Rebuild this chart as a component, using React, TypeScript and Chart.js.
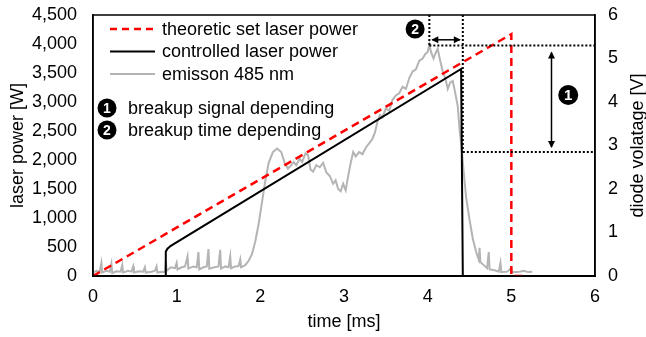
import { useEffect, useRef } from "react";
import { Chart, registerables } from "chart.js";

Chart.register(...registerables);

// ---------- data ----------
const xTicks = [0, 1, 2, 3, 4, 5, 6];
const powerTicksMax = 4500;
const voltTicksMax = 6;

const theoreticTime = [0, 5, 5, 5.15];
const theoreticPower = [0, 4170, 0, 0];

const controlTime = [0, 0.87, 0.87, 0.89, 0.93, 4.4, 4.42];
const controlPower = [0, 0, 420, 470, 520, 3570, 0];

const emissionTime = [
  0, 0.04, 0.08, 0.1, 0.11, 0.16, 0.2, 0.22, 0.23, 0.28, 0.33, 0.35, 0.36, 0.42, 0.46, 0.48, 0.49,
  0.55, 0.6, 0.62, 0.63, 0.7, 0.74, 0.76, 0.77, 0.82, 0.86, 0.87, 0.88,
  0.93, 0.98, 1.0, 1.01, 1.06, 1.1, 1.13, 1.14, 1.2, 1.24, 1.26, 1.27, 1.32, 1.36, 1.38, 1.39,
  1.45, 1.5, 1.52, 1.53, 1.58, 1.62, 1.64, 1.65, 1.7, 1.74, 1.76, 1.77, 1.82, 1.86, 1.9, 1.94,
  1.98, 2.02, 2.06, 2.1, 2.15, 2.2, 2.25, 2.29, 2.33, 2.37, 2.4, 2.43, 2.47, 2.5, 2.54, 2.57,
  2.6, 2.63, 2.67, 2.71, 2.75, 2.79, 2.83, 2.87, 2.9, 2.93, 2.96, 2.99, 3.02, 3.05, 3.08, 3.11,
  3.14, 3.18, 3.22, 3.26, 3.3, 3.34, 3.37, 3.4, 3.43, 3.46, 3.5, 3.54, 3.58, 3.62, 3.66, 3.7,
  3.74, 3.78, 3.82, 3.86, 3.9, 3.94, 3.97, 4.0, 4.02, 4.04, 4.07, 4.1, 4.12, 4.15, 4.18, 4.21,
  4.24, 4.27, 4.3, 4.33, 4.36, 4.38, 4.41, 4.43, 4.46, 4.5, 4.54, 4.58, 4.61, 4.62, 4.63, 4.67,
  4.71, 4.73, 4.74, 4.8, 4.85, 4.87, 4.88, 4.95, 5.0, 5.01, 5.1, 5.15, 5.2, 5.25,
];
const emissionVolt = [
  0.08, 0.12, 0.1, 0.3, 0.08, 0.12, 0.1, 0.28, 0.07, 0.11, 0.1, 0.25, 0.08, 0.12, 0.1, 0.22, 0.08,
  0.11, 0.1, 0.2, 0.08, 0.1, 0.12, 0.22, 0.08, 0.1, 0.09, 0.35, 0.12,
  0.2, 0.18, 0.3, 0.15, 0.2, 0.22, 0.45, 0.17, 0.22, 0.2, 0.55, 0.15, 0.2, 0.22, 0.62, 0.17,
  0.2, 0.22, 0.6, 0.17, 0.22, 0.2, 0.45, 0.18, 0.22, 0.23, 0.38, 0.2, 0.25, 0.35, 0.5, 0.8,
  1.2, 1.7, 2.2, 2.6, 2.85, 2.93, 2.85, 2.6, 2.47, 2.55, 2.62, 2.55, 2.7, 2.62, 2.82, 2.78,
  2.45, 2.4, 2.55, 2.5, 2.6, 2.38, 2.3, 2.12, 2.2, 2.0, 1.95, 2.12, 1.97, 2.3, 2.6, 2.85,
  2.75, 2.85, 2.8, 2.95, 3.05, 3.15, 3.3, 3.55, 3.7, 3.65, 3.85, 3.8, 4.05, 4.15, 4.2, 4.35,
  4.3, 4.55, 4.7, 4.75, 4.95, 5.0, 5.1, 5.15, 5.32, 5.15, 5.0, 5.15, 5.22, 4.95, 4.7, 4.55,
  4.3, 4.45, 4.48, 4.2, 3.9, 3.4, 2.85, 2.4, 1.8, 1.3, 0.85, 0.55, 0.38, 0.65, 0.32, 0.25,
  0.18, 0.55, 0.15, 0.13, 0.1, 0.3, 0.09, 0.1, 0.18, 0.09, 0.1, 0.12, 0.09, 0.1,
];

const legendLabels = ["theoretic set laser power", "controlled laser power", "emisson 485 nm"];
const noteLabels = ["breakup signal depending", "breakup time depending"];
const rightTitle = "diode volatage [V]";

// annotation values (data units: ms / V)
const peakTime = 4.02;
const breakTime = 4.42;
const peakVolt = 5.3;
const dropVolt = 2.85;
const timeArrowVolt = 5.43;
const signalArrowTime = 5.48;
const badge1 = { t: 5.68, v: 4.16 };
const badge2 = { t: 3.85, v: 5.68 };

// ---------- styles ----------
const FAMILY = "'Liberation Sans', Arial, sans-serif";
const RED = "#ff0000";
const BLACK = "#000000";
const GRAY = "#b4b4b4";

const zip = (xs: number[], ys: number[]) => xs.map((x, i) => ({ x, y: ys[i] }));

function badge(ctx: CanvasRenderingContext2D, x: number, y: number, r: number, label: string) {
  ctx.save();
  ctx.beginPath();
  ctx.arc(x, y, r, 0, Math.PI * 2);
  ctx.fillStyle = BLACK;
  ctx.fill();
  ctx.fillStyle = "#fff";
  ctx.font = `bold ${Math.round(r * 1.5)}px ${FAMILY}`;
  ctx.textAlign = "center";
  ctx.textBaseline = "middle";
  ctx.fillText(label, x, y + 1);
  ctx.restore();
}

function arrowHead(ctx: CanvasRenderingContext2D, x: number, y: number, dx: number, dy: number) {
  const len = 7, half = 3.5;
  const px = -dy, py = dx;
  ctx.beginPath();
  ctx.moveTo(x, y);
  ctx.lineTo(x - dx * len + px * half, y - dy * len + py * half);
  ctx.lineTo(x - dx * len - px * half, y - dy * len - py * half);
  ctx.closePath();
  ctx.fill();
}

const overlay = {
  id: "overlay",
  afterDatasetsDraw(chart: any) {
    const ctx: CanvasRenderingContext2D = chart.ctx;
    const xs = chart.scales.x;
    const yv = chart.scales.y2;
    const area = chart.chartArea;
    ctx.save();
    // frame
    ctx.strokeStyle = BLACK;
    ctx.lineWidth = 1.5;
    ctx.strokeRect(area.left, area.top, area.right - area.left, area.bottom - area.top);

    // right axis title (reads bottom-to-top)
    ctx.save();
    ctx.translate(638, (area.top + area.bottom) / 2);
    ctx.rotate(-Math.PI / 2);
    ctx.font = `18px ${FAMILY}`;
    ctx.fillStyle = BLACK;
    ctx.textAlign = "center";
    ctx.textBaseline = "middle";
    ctx.fillText(rightTitle, 0, 0);
    ctx.restore();

    // dotted guide lines
    ctx.setLineDash([2, 2]);
    ctx.lineWidth = 2;
    const xPeak = xs.getPixelForValue(peakTime);
    const xBreak = xs.getPixelForValue(breakTime);
    const yPeak = yv.getPixelForValue(peakVolt);
    const yDrop = yv.getPixelForValue(dropVolt);
    ctx.beginPath();
    ctx.moveTo(xPeak, area.top);
    ctx.lineTo(xPeak, yPeak);
    ctx.moveTo(xPeak, yPeak);
    ctx.lineTo(area.right, yPeak);
    ctx.moveTo(xBreak, area.top);
    ctx.lineTo(xBreak, yDrop);
    ctx.moveTo(xBreak, yDrop);
    ctx.lineTo(area.right, yDrop);
    ctx.stroke();
    ctx.setLineDash([]);

    // horizontal double arrow
    ctx.fillStyle = BLACK;
    ctx.lineWidth = 1.5;
    const yA = yv.getPixelForValue(timeArrowVolt);
    ctx.beginPath();
    ctx.moveTo(xPeak + 3, yA);
    ctx.lineTo(xBreak - 3, yA);
    ctx.stroke();
    arrowHead(ctx, xPeak + 2, yA, -1, 0);
    arrowHead(ctx, xBreak - 2, yA, 1, 0);

    // vertical double arrow
    const xA = xs.getPixelForValue(signalArrowTime);
    ctx.beginPath();
    ctx.moveTo(xA, yPeak + 7);
    ctx.lineTo(xA, yDrop - 5);
    ctx.stroke();
    arrowHead(ctx, xA, yPeak + 6, 0, -1);
    arrowHead(ctx, xA, yDrop - 4, 0, 1);

    badge(ctx, xs.getPixelForValue(badge1.t), yv.getPixelForValue(badge1.v), 10, "1");
    badge(ctx, xs.getPixelForValue(badge2.t), yv.getPixelForValue(badge2.v), 9.5, "2");

    // legend
    const lx = area.left + 17;
    const ly = area.top + 14;
    const gap = 22.5;
    const styles = [
      { c: RED, w: 2.5, d: [7, 5] },
      { c: BLACK, w: 2, d: [] },
      { c: GRAY, w: 2, d: [] },
    ];
    ctx.font = `18px ${FAMILY}`;
    ctx.textBaseline = "middle";
    ctx.textAlign = "left";
    legendLabels.forEach((t, i) => {
      const y = ly + i * gap;
      ctx.strokeStyle = styles[i].c;
      ctx.lineWidth = styles[i].w;
      ctx.setLineDash(styles[i].d);
      ctx.beginPath();
      ctx.moveTo(lx, y);
      ctx.lineTo(lx + 45, y);
      ctx.stroke();
      ctx.setLineDash([]);
      ctx.fillStyle = BLACK;
      ctx.fillText(t, lx + 52, y + 1);
    });
    noteLabels.forEach((t, i) => {
      const y = area.top + 93 + i * 22;
      badge(ctx, area.left + 14, y, 9.5, String(i + 1));
      ctx.fillStyle = BLACK;
      ctx.font = `18px ${FAMILY}`;
      ctx.textAlign = "left";
      ctx.textBaseline = "middle";
      ctx.fillText(t, area.left + 35, y + 1);
    });
    ctx.restore();
  },
};

export default function App() {
  const ref = useRef<HTMLCanvasElement>(null);
  useEffect(() => {
    const font = { family: FAMILY, size: 18 };
    const chart = new Chart(ref.current!, {
      type: "line",
      data: {
        datasets: [
          {
            label: legendLabels[0],
            data: zip(theoreticTime, theoreticPower),
            borderColor: RED,
            borderWidth: 2.5,
            borderDash: [8, 5],
            yAxisID: "y",
            pointRadius: 0,
          },
          {
            label: legendLabels[1],
            data: zip(controlTime, controlPower),
            borderColor: BLACK,
            borderWidth: 2,
            yAxisID: "y",
            pointRadius: 0,
          },
          {
            label: legendLabels[2],
            data: zip(emissionTime, emissionVolt),
            borderColor: GRAY,
            borderWidth: 2,
            yAxisID: "y2",
            pointRadius: 0,
          },
        ],
      },
      options: {
        animation: false,
        responsive: false,
        maintainAspectRatio: false,
        layout: { padding: { top: 15, left: 0, right: 0, bottom: 0 } },
        plugins: { legend: { display: false }, tooltip: { enabled: false } },
        elements: { line: { tension: 0 } },
        scales: {
          x: {
            type: "linear",
            min: xTicks[0],
            max: xTicks[xTicks.length - 1],
            afterBuildTicks: (s: any) => {
              s.ticks = xTicks.map((v) => ({ value: v }));
            },
            ticks: { font, color: BLACK, padding: 10, maxRotation: 0 },
            grid: { display: false, drawTicks: false },
            border: { color: BLACK, width: 2 },
            title: { display: true, text: "time [ms]", font: { ...font, lineHeight: 1 }, color: BLACK, padding: { top: 0, bottom: 6 } },
            afterFit: (s: any) => {
              s.height = 61;
              s.paddingLeft = 0;
              s.paddingRight = 0;
            },
          },
          y: {
            type: "linear",
            position: "left",
            min: 0,
            max: powerTicksMax,
            ticks: { stepSize: 500, font, color: BLACK, padding: 16 },
            grid: { display: false, drawTicks: false },
            border: { color: BLACK, width: 1.5 },
            title: { display: true, text: "laser power [W]", font: { ...font, lineHeight: 1 }, color: BLACK, padding: { top: 9, bottom: 0 } },
            afterFit: (s: any) => {
              s.width = 93;
              s.paddingTop = 0;
              s.paddingBottom = 0;
            },
          },
          y2: {
            type: "linear",
            position: "right",
            min: 0,
            max: voltTicksMax,
            ticks: { stepSize: 1, font, color: BLACK, padding: 13 },
            grid: { display: false, drawTicks: false },
            border: { color: BLACK, width: 1.5 },
            afterFit: (s: any) => {
              s.width = 51;
              s.paddingTop = 0;
              s.paddingBottom = 0;
            },
          },
        },
      },
      plugins: [overlay],
    });
    return () => chart.destroy();
  }, []);
  return (
    <div style={{ position: "absolute", left: 0, top: 0, width: 646, height: 337, background: "#fff" }}>
      <canvas ref={ref} width={646} height={337} style={{ display: "block", width: 646, height: 337 }} />
    </div>
  );
}
